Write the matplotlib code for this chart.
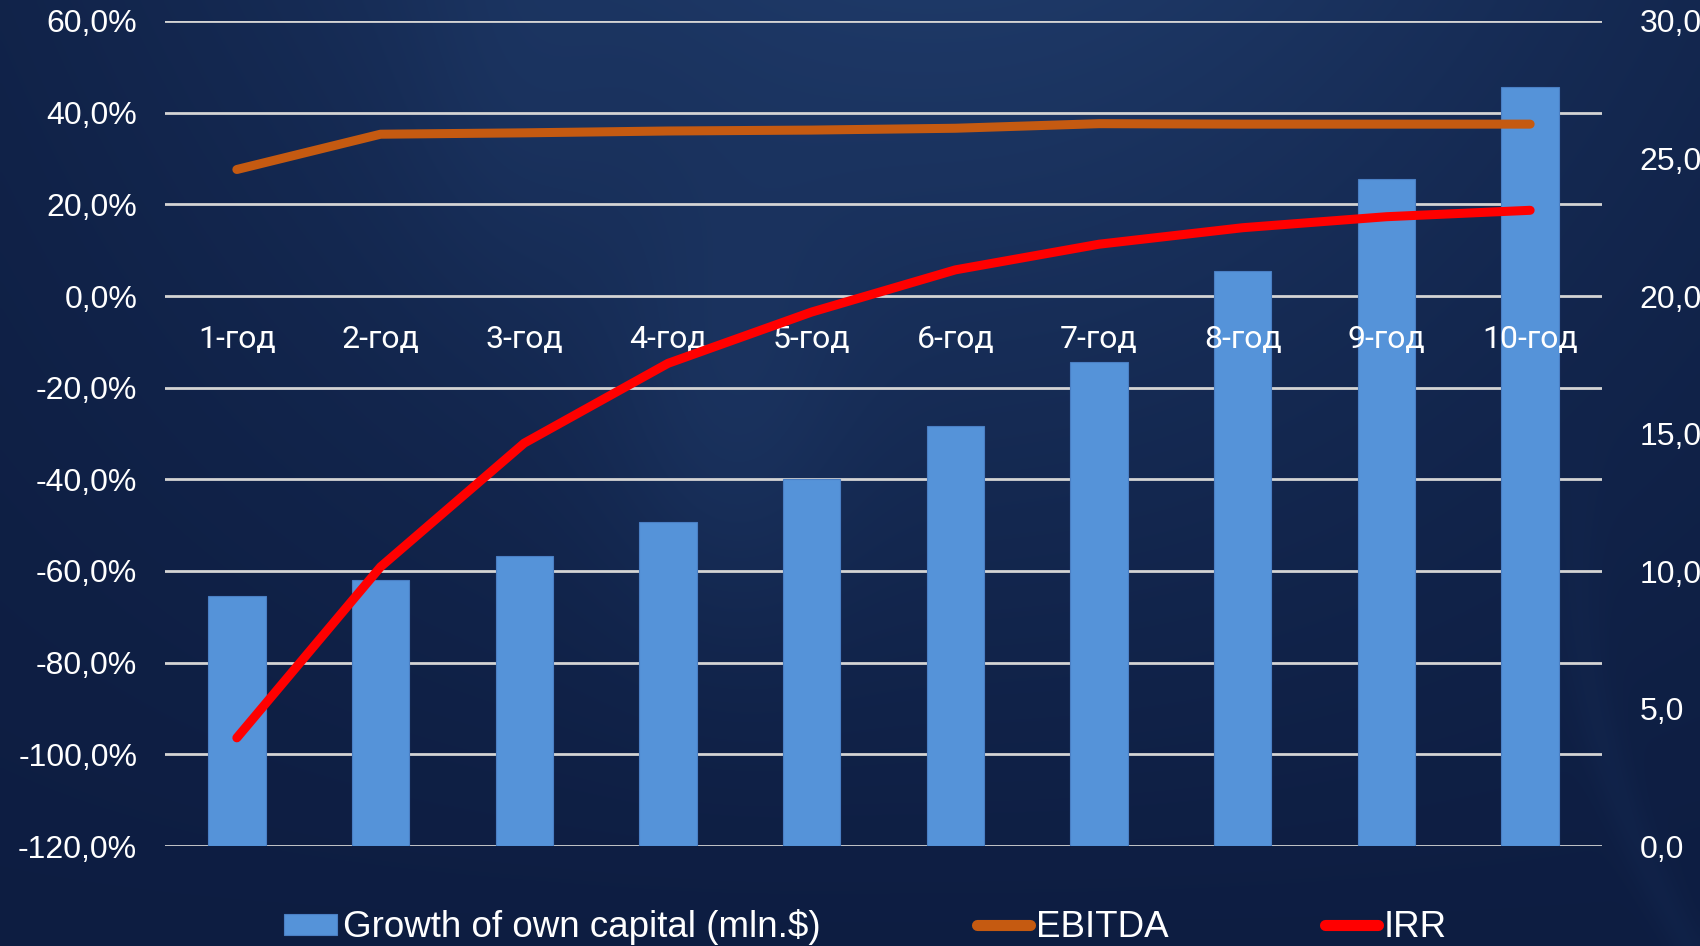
import numpy as np
import matplotlib
matplotlib.use("Agg")
import matplotlib.pyplot as plt
from matplotlib.ticker import FixedLocator, FuncFormatter, NullFormatter

# ---- data ----
years = ["1-год", "2-год", "3-год", "4-год", "5-год",
         "6-год", "7-год", "8-год", "9-год", "10-год"]
equity_growth = [9.08, 9.66, 10.56, 11.79, 13.33, 15.27, 17.59, 20.91, 24.24, 27.6]   # mln $
ebitda = [27.6, 35.3, 35.6, 36.0, 36.2, 36.6, 37.6, 37.5, 37.5, 37.5]               # %
irr = [-96.4, -59.1, -32.1, -14.7, -3.5, 5.7, 11.3, 14.9, 17.3, 18.7]                # %

pct_ticks = [-120, -100, -80, -60, -40, -20, 0, 20, 40, 60]
mln_ticks = [0, 5, 10, 15, 20, 25, 30]
PCT_LIM = (-120, 60)
MLN_LIM = (0, 30)

BAR_COLOR = "#5593d9"
EBITDA_COLOR = "#c55a11"
IRR_COLOR = "#ff0000"
GRID_COLOR = "#d4d4d4"

W, H, DPI = 1700, 946, 100
fig = plt.figure(figsize=(W / DPI, H / DPI), dpi=DPI)

# ---- navy gradient backdrop ----
bg_ax = fig.add_axes([0, 0, 1, 1], zorder=-10)
bg_ax.set_axis_off()
u = np.linspace(0, 1, 425)[None, :]
v = np.linspace(0, 1, 237)[:, None]
dark = np.array([0.043, 0.098, 0.235])
light = np.array([0.125, 0.235, 0.420])
w = 0.12 + 0.78 * np.exp(-((u - 0.55) / 0.45) ** 2) * (1 - v) ** 1.2
w += 0.22 * np.exp(-((u - 0.43) / 0.07) ** 2 - ((v - 0.45) / 0.22) ** 2)
w += 0.10 * np.exp(-((u - 0.30) / 0.06) ** 2 - ((v - 0.10) / 0.20) ** 2)
arc = np.exp(-((u - (0.93 + 0.10 * (v - 0.6) ** 2 * 4)) / 0.012) ** 2) * np.clip((v - 0.45) * 3, 0, 1)
w += 0.12 * arc
w = np.clip(w, 0, 1.2)
img = dark[None, None, :] + w[..., None] * (light - dark)[None, None, :]
bg_ax.imshow(np.clip(img, 0, 1), aspect="auto", extent=[0, 1, 0, 1],
             interpolation="bicubic")

# ---- axes ----
rect = [165 / W, 1 - 846 / H, (1602 - 165) / W, (846 - 21) / H]
ax = fig.add_axes(rect)          # percentage axis (lines)
ax2 = ax.twinx()                 # mln $ axis (bars)
ax.set_zorder(ax2.get_zorder() + 1)
ax.patch.set_visible(False)
ax2.patch.set_visible(False)

x = np.arange(len(years))

ax2.bar(x, equity_growth, width=0.40, color=BAR_COLOR, edgecolor="#4a7fc4",
        linewidth=0.8, zorder=2, label="Growth of own capital (mln.$)")
ax2.set_ylim(*MLN_LIM)
ax2.yaxis.set_major_locator(FixedLocator(mln_ticks))
ax2.yaxis.set_major_formatter(FuncFormatter(lambda val, _: f"{val:.1f}".replace(".", ",")))
# horizontal grid follows the percentage ticks but sits beneath the bars
scale = (MLN_LIM[1] - MLN_LIM[0]) / (PCT_LIM[1] - PCT_LIM[0])
ax2.yaxis.remove_overlapping_locs = False
ax2.yaxis.set_minor_locator(FixedLocator([(p - PCT_LIM[0]) * scale for p in pct_ticks]))
ax2.yaxis.set_minor_formatter(NullFormatter())
ax2.set_axisbelow(True)
ax2.grid(axis="y", which="minor", color=GRID_COLOR, linewidth=2.0, zorder=0)
ax2.grid(axis="y", which="major", visible=False)
ax2.tick_params(axis="y", which="both", length=0)
ax2.tick_params(axis="y", which="major", pad=27, labelsize=23, labelcolor="white")

ax.plot(x, ebitda, color=EBITDA_COLOR, linewidth=6.5, solid_capstyle="round",
        solid_joinstyle="round", label="EBITDA", zorder=3)
ax.plot(x, irr, color=IRR_COLOR, linewidth=6.5, solid_capstyle="round",
        solid_joinstyle="round", label="IRR", zorder=4)
ax.set_ylim(*PCT_LIM)
ax.set_xlim(-0.5, len(years) - 0.5)
ax.yaxis.set_major_locator(FixedLocator(pct_ticks))
ax.yaxis.set_major_formatter(FuncFormatter(lambda val, _: f"{val:.1f}%".replace(".", ",")))
ax.tick_params(axis="y", length=0, pad=20, labelsize=23, labelcolor="white")

# category labels sit just under the zero line
ax.spines["bottom"].set_position(("data", 0))
ax.set_xticks(x)
ax.set_xticklabels(years, fontfamily="Roboto", fontsize=23, color="white")
ax.tick_params(axis="x", length=0, pad=21)

for a in (ax, ax2):
    for s in a.spines.values():
        s.set_visible(False)
for lab in ax.get_yticklabels() + ax2.get_yticklabels():
    lab.set_fontfamily(["Liberation Sans", "DejaVu Sans"])

# ---- legend ----
handles = [ax2.patches[0], ax.lines[0], ax.lines[1]]
labels = ["Growth of own capital (mln.$)", "EBITDA", "IRR"]
leg = fig.legend(handles, labels, loc="center", bbox_to_anchor=(0.509, 0.02),
                 ncol=3, frameon=False, borderpad=0, handlelength=1.45,
                 handleheight=0.5, handletextpad=0.15, columnspacing=4.25,
                 prop={"family": ["Liberation Sans", "DejaVu Sans"], "size": 26.5})
for t in leg.get_texts():
    t.set_color("white")
for ln in leg.get_lines():
    ln.set_linewidth(8)

fig.savefig("out.png", dpi=DPI)
